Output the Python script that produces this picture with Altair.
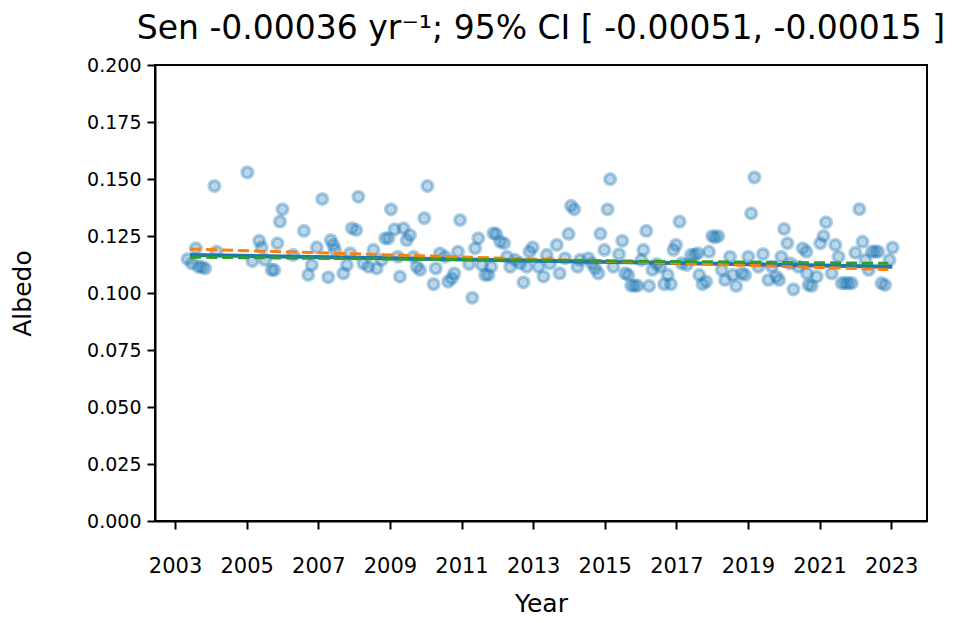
import altair as alt
import pandas as pd

years = [2003.35, 2003.47, 2003.58, 2003.65, 2003.75, 2003.84, 2004.10, 2004.16,
         2005.02, 2005.16, 2005.35, 2005.42, 2005.51, 2005.70, 2005.77, 2005.86, 2005.93,
         2006.00, 2006.30, 2006.60, 2006.72, 2006.82, 2006.96, 2007.11, 2007.28, 2007.35,
         2007.42, 2007.47, 2007.70, 2007.80, 2007.89, 2007.94, 2008.06, 2008.12, 2008.26,
         2008.40, 2008.54, 2008.63, 2008.77, 2008.87, 2008.96, 2009.03, 2009.13, 2009.22,
         2009.28, 2009.38, 2009.47, 2009.56, 2009.66, 2009.75, 2009.84, 2009.96, 2010.05,
         2010.22, 2010.28, 2010.40, 2010.54, 2010.63, 2010.73, 2010.80, 2010.90, 2010.96,
         2011.21, 2011.30, 2011.38, 2011.47, 2011.57, 2011.66, 2011.75, 2011.83, 2011.89,
         2011.97, 2012.08, 2012.19, 2012.27, 2012.36, 2012.50, 2012.64, 2012.73, 2012.82,
         2012.90, 2012.99, 2013.15, 2013.29, 2013.38, 2013.47, 2013.66, 2013.74, 2013.89,
         2013.99, 2014.06, 2014.15, 2014.24, 2014.31, 2014.54, 2014.64, 2014.73, 2014.82,
         2014.88, 2014.99, 2015.08, 2015.15, 2015.24, 2015.40, 2015.49, 2015.57, 2015.66,
         2015.74, 2015.83, 2015.92, 2016.02, 2016.08, 2016.16, 2016.24, 2016.33, 2016.45,
         2016.55, 2016.66, 2016.76, 2016.85, 2016.92, 2016.99, 2017.09, 2017.15, 2017.29,
         2017.41, 2017.51, 2017.60, 2017.64, 2017.73, 2017.83, 2017.91, 2018.00, 2018.08,
         2018.17, 2018.27, 2018.36, 2018.50, 2018.58, 2018.67, 2018.83, 2018.92, 2019.01,
         2019.09, 2019.18, 2019.29, 2019.42, 2019.57, 2019.67, 2019.79, 2019.87, 2019.93,
         2020.01, 2020.10, 2020.18, 2020.27, 2020.41, 2020.53, 2020.63, 2020.65, 2020.69,
         2020.78, 2020.92, 2021.02, 2021.11, 2021.18, 2021.34, 2021.44, 2021.53, 2021.62,
         2021.72, 2021.81, 2021.90, 2022.00, 2022.11, 2022.20, 2022.28, 2022.37, 2022.46,
         2022.55, 2022.64, 2022.73, 2022.83, 2022.95, 2023.04]

albedo = [0.1149, 0.1130, 0.1196, 0.1115, 0.1113, 0.1108, 0.1469, 0.1181,
          0.1529, 0.1140, 0.1229, 0.1200, 0.1145, 0.1101, 0.1101, 0.1218, 0.1313,
          0.1367, 0.1167, 0.1272, 0.1079, 0.1123, 0.1200, 0.1412, 0.1069, 0.1232,
          0.1211, 0.1189, 0.1086, 0.1123, 0.1174, 0.1284, 0.1276, 0.1422, 0.1130,
          0.1115, 0.1189, 0.1108, 0.1145, 0.1240, 0.1240, 0.1367, 0.1279, 0.1159,
          0.1072, 0.1284, 0.1232, 0.1254, 0.1159, 0.1115, 0.1101, 0.1328, 0.1469,
          0.1039, 0.1108, 0.1174, 0.1159, 0.1050, 0.1064, 0.1086, 0.1181, 0.1320,
          0.1127, 0.0979, 0.1196, 0.1240, 0.1123, 0.1079, 0.1079, 0.1115, 0.1262,
          0.1259, 0.1225, 0.1218, 0.1159, 0.1115, 0.1145, 0.1130, 0.1047, 0.1115,
          0.1181, 0.1200, 0.1115, 0.1072, 0.1167, 0.1130, 0.1211, 0.1086, 0.1152,
          0.1259, 0.1382, 0.1367, 0.1115, 0.1145, 0.1152, 0.1130, 0.1108, 0.1086,
          0.1260, 0.1189, 0.1367, 0.1499, 0.1115, 0.1170, 0.1229, 0.1086, 0.1079,
          0.1032, 0.1032, 0.1032, 0.1145, 0.1189, 0.1272, 0.1031, 0.1101, 0.1127,
          0.1115, 0.1039, 0.1079, 0.1039, 0.1189, 0.1211, 0.1313, 0.1130, 0.1123,
          0.1167, 0.1167, 0.1174, 0.1079, 0.1039, 0.1050, 0.1181, 0.1250, 0.1244,
          0.1250, 0.1101, 0.1057, 0.1159, 0.1079, 0.1031, 0.1086, 0.1079, 0.1159,
          0.1349, 0.1507, 0.1115, 0.1171, 0.1057, 0.1115, 0.1072, 0.1057, 0.1159,
          0.1281, 0.1218, 0.1130, 0.1016, 0.1115, 0.1196, 0.1181, 0.1086, 0.1035,
          0.1031, 0.1072, 0.1218, 0.1250, 0.1310, 0.1086, 0.1211, 0.1159, 0.1043,
          0.1043, 0.1043, 0.1043, 0.1177, 0.1368, 0.1225, 0.1145, 0.1101, 0.1181,
          0.1181, 0.1181, 0.1043, 0.1035, 0.1145, 0.1199]

# trend lines (endpoints)
ols_years = [2003.42, 2023.03]
ols_vals = [0.1167, 0.1115]
sen_years = [2003.42, 2022.92]
sen_vals = [0.1193, 0.1103]
alt_years = [2003.42, 2022.92]
alt_vals = [0.1157, 0.1130]

x_ticks = [2003, 2005, 2007, 2009, 2011, 2013, 2015, 2017, 2019, 2021, 2023]
y_ticks = [0.0, 0.025, 0.05, 0.075, 0.1, 0.125, 0.15, 0.175, 0.2]

pts = pd.DataFrame({"Year": years, "Albedo": albedo})
ols = pd.DataFrame({"Year": ols_years, "Albedo": ols_vals})
sen = pd.DataFrame({"Year": sen_years, "Albedo": sen_vals})
alt_df = pd.DataFrame({"Year": alt_years, "Albedo": alt_vals})

xs = alt.Scale(domain=[2002.44, 2024.0], nice=False, zero=False)
ys = alt.Scale(domain=[0, 0.2], nice=False)

xax = alt.Axis(values=x_ticks, format="d", title="Year", grid=False,
               labelFontSize=21, labelPadding=26,
               titleY=70, titleBaseline="top")
yax = alt.Axis(values=y_ticks, format=".3f", title="Albedo", grid=False,
               labelFontSize=19, labelPadding=6,
               titleX=-120, titleY=228, titleBaseline="bottom")

base_x = alt.X("Year:Q", scale=xs, axis=xax)
base_y = alt.Y("Albedo:Q", scale=ys, axis=yax)

points = alt.Chart(pts).mark_point(
    shape="circle", filled=False, size=115, fill="#1f77b4", fillOpacity=0.3,
    stroke="#1f77b4", strokeOpacity=0.35, strokeWidth=3.5
).encode(x=base_x, y=base_y)

l_ols = alt.Chart(ols).mark_line(color="#1f77b4", strokeWidth=4).encode(x="Year:Q", y="Albedo:Q")
l_sen = alt.Chart(sen).mark_line(color="#ff7f0e", strokeWidth=3, strokeDash=[11, 5]).encode(x="Year:Q", y="Albedo:Q")
l_alt = alt.Chart(alt_df).mark_line(color="#2ca02c", strokeWidth=3, strokeDash=[11, 5]).encode(x="Year:Q", y="Albedo:Q")

chart = alt.layer(points, l_ols, l_sen, l_alt).properties(
    width=772, height=456,
    title=alt.TitleParams("Sen -0.00036 yr\u207b\u00b9; 95% CI [ -0.00051, -0.00015 ]",
                          fontSize=33, font="DejaVu Sans", fontWeight="normal",
                          color="black", anchor="middle", offset=10),
    autosize=alt.AutoSizeParams(type="none"),
    padding={"left": 147, "top": 57, "right": 25, "bottom": 100},
).configure_view(
    stroke="black", strokeWidth=2
).configure_axis(
    domainColor="black", domainWidth=2, tickColor="black", tickWidth=2, tickSize=8,
    labelFont="DejaVu Sans", labelColor="black",
    titleFont="DejaVu Sans", titleFontSize=25, titleFontWeight="normal", titleColor="black",
)

chart.save("out.html", embed_options={"renderer": "svg", "actions": False})
